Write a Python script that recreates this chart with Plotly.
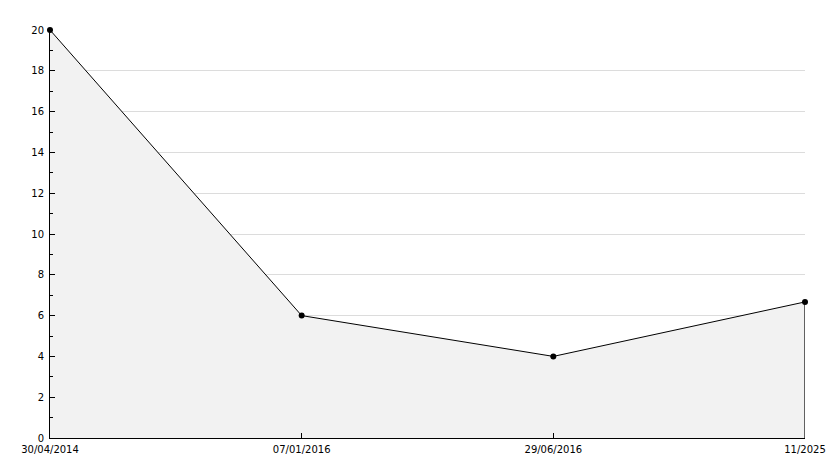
import plotly.graph_objects as go

categories = ["30/04/2014", "07/01/2016", "29/06/2016", "11/2025"]
values = [20, 6, 4, 6.67]
y_ticks = [0, 2, 4, 6, 8, 10, 12, 14, 16, 18, 20]

fig = go.Figure()
fig.add_trace(go.Scatter(
    x=categories, y=values, mode="lines+markers",
    fill="tozeroy", fillcolor="#f2f2f2",
    line=dict(color="black", width=1),
    marker=dict(color="black", size=6, symbol="circle"),
    cliponaxis=False,
    hoverinfo="x+y", showlegend=False,
))
# closing edge of the filled area at the last category
fig.add_trace(go.Scatter(
    x=[categories[-1], categories[-1]], y=[0, values[-1]], mode="lines",
    line=dict(color="black", width=1.2), cliponaxis=False,
    hoverinfo="skip", showlegend=False,
))

fig.update_layout(
    width=834, height=468,
    margin=dict(l=50, r=29, t=30, b=30, autoexpand=False),
    paper_bgcolor="white", plot_bgcolor="white",
    font=dict(family="DejaVu Sans", size=10, color="black"),
    xaxis=dict(
        type="category", range=[0, len(categories) - 1],
        automargin=False,
        showgrid=False, zeroline=False,
        showline=True, linecolor="black", linewidth=1,
        ticks="inside", ticklen=5, tickcolor="black",
        ticklabelstandoff=2,
    ),
    yaxis=dict(
        range=[0, 20], tickvals=y_ticks,
        automargin=False,
        showgrid=True, gridcolor="#dcdcdc", gridwidth=1,
        zeroline=False,
        showline=True, linecolor="black", linewidth=1,
        ticks="inside", ticklen=5, tickcolor="black",
        ticklabelstandoff=3,
        minor=dict(dtick=1, ticks="inside", ticklen=3, tickcolor="black", showgrid=False),
    ),
)

fig.write_html("out.html", config={"displayModeBar": False},
               post_script="document.body.style.margin='0';")
